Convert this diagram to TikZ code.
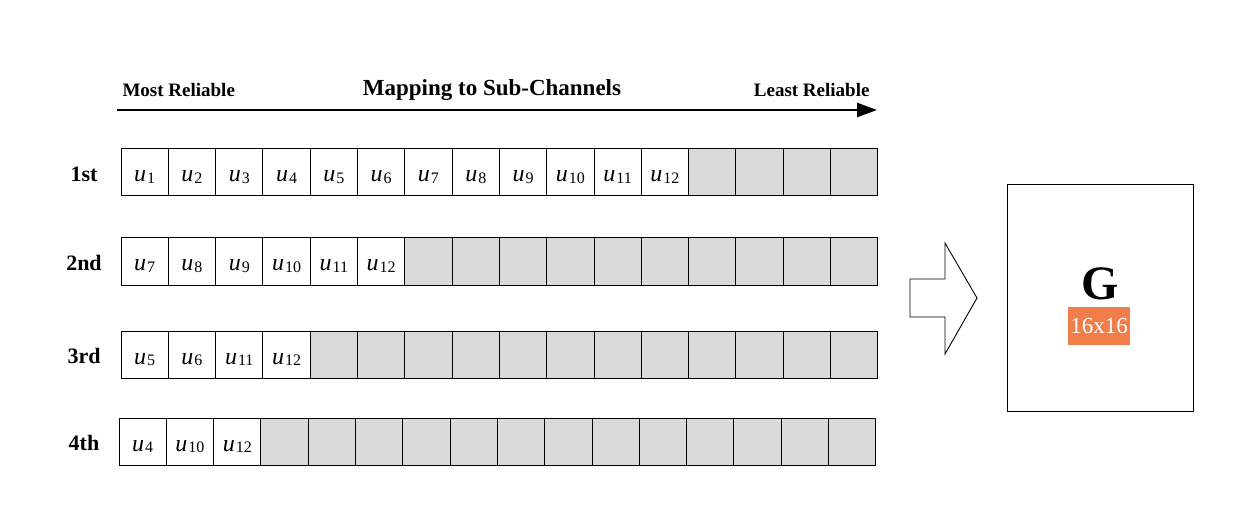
\documentclass[tikz,border=0pt]{standalone}
\usepackage{fontspec}
\setmainfont{Liberation Serif}
\usetikzlibrary{arrows.meta}
\definecolor{cellgrey}{HTML}{D9D9D9}
\definecolor{gorange}{HTML}{F07D4A}
\newcommand{\uu}[1]{\textit{u}\kern1pt\raisebox{-1.5pt}{\fontsize{16}{16}\selectfont #1}}
\tikzset{
  cell/.style={draw, line width=1pt, minimum width=47.3pt, minimum height=47pt, inner sep=0pt, outer sep=0pt, anchor=north west, text height=19pt, text depth=0pt, font=\fontsize{24}{24}\selectfont},
  greycell/.style={cell, fill=cellgrey},
  rowlabel/.style={font=\fontsize{22}{22}\selectfont\bfseries, anchor=center},
  toplabel/.style={font=\fontsize{19}{19}\selectfont\bfseries},
}
\begin{document}
\begin{tikzpicture}[x=1pt,y=-1pt]
\useasboundingbox (0,0) rectangle (1240,513);
% top arrow
\coordinate (arrL) at (117,110);
\coordinate (arrR) at (877,110);
\draw[line width=2.6pt, -{Triangle[length=20pt,width=14pt]}] (arrL) -- (arrR);
\node[toplabel, anchor=base west] (most) at (119,97) {Most Reliable};
\node[toplabel, anchor=base east] (least) at (873,97) {Least Reliable};
\node[font=\fontsize{23}{23}\selectfont\bfseries, anchor=base] (map) at (492,96) {Mapping to Sub-Channels};
% rows
\foreach \r/\x/\y/\lab/\n/\list in {1/121/149/1st/12/{1,2,3,4,5,6,7,8,9,10,11,12},
                              2/121/238/2nd/6/{7,8,9,10,11,12},
                              3/121/331/3rd/4/{5,6,11,12},
                              4/119/418/4th/3/{4,10,12}}{
  \node[rowlabel] (lab\r) at (84,\y+25) {\lab};
  \foreach \v [count=\i] in \list {
    \node[cell] (r\r c\i) at ({\x+(\i-1)*47.3},\y) {\uu{\v}};
  }
  \pgfmathtruncatemacro{\s}{\n+1}
  \foreach \i in {\s,...,16} {
    \node[greycell] (r\r c\i) at ({\x+(\i-1)*47.3},\y) {};
  }
}
% block arrow
\coordinate (ba1) at (910,279);
\coordinate (ba2) at (945,279);
\coordinate (ba3) at (945,243);
\coordinate (ba4) at (977,298);
\coordinate (ba5) at (945,354);
\coordinate (ba6) at (945,317);
\coordinate (ba7) at (910,317);
\draw[line width=0.9pt, line join=miter] (ba1) -- (ba2) -- (ba3) -- (ba4) -- (ba5) -- (ba6) -- (ba7) -- cycle;
% G box
\node[draw, line width=1pt, minimum width=186pt, minimum height=227pt, inner sep=0pt, anchor=north west] (gbox) at (1007,184) {};
\node[font=\fontsize{48}{48}\selectfont\bfseries] (G) at (1100,284) {G};
\node[fill=gorange, text=white, minimum width=62pt, minimum height=38pt, inner sep=0pt, font=\fontsize{23}{23}\selectfont] (dim) at (1099,326) {16x16};
\end{tikzpicture}
\end{document}
